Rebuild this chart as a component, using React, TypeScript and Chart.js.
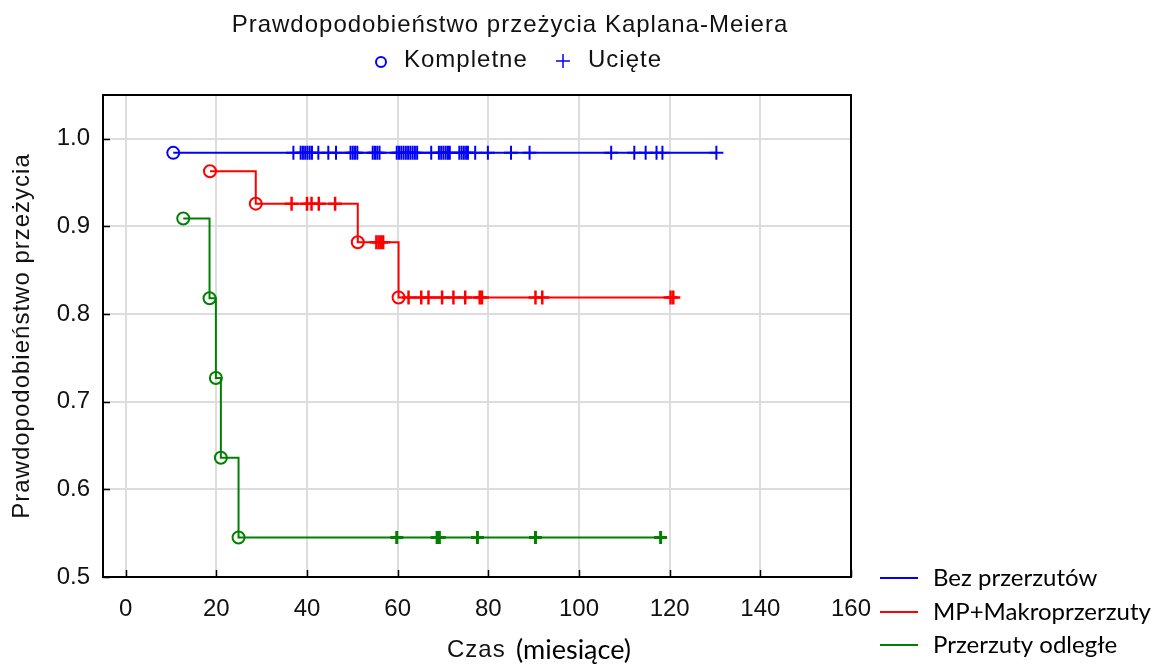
import React, { useEffect, useRef } from 'react';
import { Chart, registerables } from 'chart.js';

Chart.register(...registerables);

// Axis ticks
const xTicks = [0, 20, 40, 60, 80, 100, 120, 140, 160];
const yTicks = [0.5, 0.6, 0.7, 0.8, 0.9, 1.0];

// Bez przerzutów: event (complete) times / survival, censored times, end of follow-up
const blueEventT = [10.5];
const blueEventS = [0.984];
const blueCensorT = [
  37.0, 38.6, 39.1, 39.6, 40.1, 40.6, 41.1, 42.5, 44.7, 46.4, 49.6, 50.1, 50.6, 51.1,
  54.5, 55.0, 55.5, 56.0, 59.8, 60.3, 60.8, 61.3, 61.8, 62.3, 62.8, 63.3, 63.8, 64.3,
  67.4, 69.1, 69.6, 70.1, 70.6, 71.1, 71.5, 73.6, 74.1, 74.6, 75.1, 75.5, 77.1, 79.9,
  85.0, 89.1, 107.1, 112.2, 114.7, 117.1, 118.4, 130.3,
];
const blueEnd = 130.5;

// MP+Makroprzerzuty
const redEventT = [18.6, 28.7, 51.2, 60.2];
const redEventS = [0.963, 0.926, 0.882, 0.819];
const redCensorT = [
  36.6, 40.0, 41.0, 42.6, 46.2, 55.3, 55.8, 56.3, 56.8, 62.4, 65.2, 66.8, 69.8, 72.3,
  74.9, 78.1, 78.6, 90.4, 91.9, 120.2, 120.8,
];
const redEnd = 121;

// Przerzuty odległe
const greenEventT = [12.7, 18.5, 19.9, 21.0, 24.9];
const greenEventS = [0.909, 0.818, 0.727, 0.636, 0.545];
const greenCensorT = [59.8, 68.7, 69.2, 77.6, 90.4, 118.0];
const greenEnd = 118;

const seriesNames = ['Bez przerzutów', 'MP+Makroprzerzuty', 'Przerzuty odległe'];
const seriesColors = ['#0000ff', '#ff0000', '#008000'];

const titleText = 'Prawdopodobieństwo przeżycia Kaplana-Meiera';
const markerLabels = ['Kompletne', 'Ucięte'];
const yTitle = 'Prawdopodobieństwo przeżycia';
const xTitleMain = 'Czas';
const xTitleUnit = '(miesiące)';

const SANS = '"Liberation Sans", Arial, sans-serif';
const LEG = 'Lato, "Open Sans", sans-serif';
const INK = '#111111';

function survivalAt(t: number, evT: number[], evS: number[]) {
  let s = 1;
  for (let i = 0; i < evT.length; i++) if (evT[i] <= t) s = evS[i];
  return s;
}

function curve(evT: number[], evS: number[], end: number) {
  const pts = evT.map((t, i) => ({ x: t, y: evS[i] }));
  pts.push({ x: end, y: evS[evS.length - 1] });
  return pts;
}

function events(evT: number[], evS: number[]) {
  return evT.map((t, i) => ({ x: t, y: evS[i] }));
}

function censored(ct: number[], evT: number[], evS: number[]) {
  return ct.map((t) => ({ x: t, y: survivalAt(t, evT, evS) }));
}

const series = [
  { evT: blueEventT, evS: blueEventS, cT: blueCensorT, end: blueEnd, crossW: 2, crossR: 7 },
  { evT: redEventT, evS: redEventS, cT: redCensorT, end: redEnd, crossW: 2.5, crossR: 7 },
  { evT: greenEventT, evS: greenEventS, cT: greenCensorT, end: greenEnd, crossW: 3, crossR: 6.5 },
];

const decor = {
  id: 'decor',
  beforeDraw(chart: any) {
    const ctx = chart.ctx;
    ctx.save();
    ctx.fillStyle = '#ffffff';
    ctx.fillRect(0, 0, chart.width, chart.height);
    ctx.restore();
  },
  beforeDatasetsDraw(chart: any) {
    const ctx = chart.ctx;
    const { left, right, top, bottom } = chart.chartArea;
    const xs = chart.scales.x;
    const ys = chart.scales.y;
    ctx.save();
    ctx.strokeStyle = '#000000';
    ctx.lineWidth = 2;
    ctx.strokeRect(left, top, right - left, bottom - top);
    ctx.lineWidth = 1.5;
    ctx.beginPath();
    xTicks.forEach((v) => {
      const px = Math.round(xs.getPixelForValue(v)) + 0.5;
      ctx.moveTo(px, bottom);
      ctx.lineTo(px, bottom - 7);
    });
    yTicks.forEach((v) => {
      const py = Math.round(ys.getPixelForValue(v)) + 0.5;
      ctx.moveTo(left, py);
      ctx.lineTo(left + 7, py);
    });
    ctx.stroke();
    ctx.restore();
  },
  afterDraw(chart: any) {
    const ctx = chart.ctx;
    const { right, top, bottom } = chart.chartArea;
    ctx.save();
    ctx.fillStyle = INK;
    ctx.textBaseline = 'middle';

    // title
    ctx.letterSpacing = '1px';
    ctx.font = `24px ${SANS}`;
    ctx.textAlign = 'center';
    ctx.fillText(titleText, 510, 25);

    // marker key
    ctx.textAlign = 'left';
    ctx.fillText(markerLabels[0], 404, 60);
    ctx.fillText(markerLabels[1], 588, 60);
    ctx.strokeStyle = '#0000ff';
    ctx.lineWidth = 2;
    ctx.beginPath();
    ctx.arc(381, 62, 5, 0, Math.PI * 2);
    ctx.stroke();
    ctx.lineWidth = 1.5;
    ctx.beginPath();
    ctx.moveTo(556, 61);
    ctx.lineTo(570, 61);
    ctx.moveTo(563, 54);
    ctx.lineTo(563, 68);
    ctx.stroke();

    // y axis title
    ctx.save();
    ctx.translate(22, (top + bottom) / 2);
    ctx.rotate(-Math.PI / 2);
    ctx.textAlign = 'center';
    ctx.fillText(yTitle, 0, 0);
    ctx.restore();

    // x axis title
    ctx.textAlign = 'left';
    ctx.fillText(xTitleMain, 447, 650);
    ctx.letterSpacing = '0px';
    ctx.font = `27px ${LEG}`;
    ctx.fillStyle = '#000000';
    ctx.fillText(xTitleUnit, 516, 650);

    // series key at the lower right
    ctx.font = `24px ${LEG}`;
    const ly = [578, 612, 645];
    seriesNames.forEach((name, i) => {
      ctx.strokeStyle = seriesColors[i];
      ctx.lineWidth = 2;
      ctx.beginPath();
      ctx.moveTo(right + 29, ly[i]);
      ctx.lineTo(right + 67, ly[i]);
      ctx.stroke();
      ctx.fillText(name, right + 82, ly[i]);
    });
    ctx.restore();
  },
};

export default function App() {
  const ref = useRef<HTMLCanvasElement>(null);

  useEffect(() => {
    document.body.style.margin = '0';
    const datasets: any[] = [];
    series.forEach((s, i) => {
      const color = seriesColors[i];
      datasets.push({
        label: seriesNames[i],
        data: curve(s.evT, s.evS, s.end),
        showLine: true,
        stepped: true,
        borderColor: color,
        borderWidth: 2,
        pointRadius: 0,
        fill: false,
      });
      datasets.push({
        label: seriesNames[i] + ' – kompletne',
        data: events(s.evT, s.evS),
        showLine: false,
        pointStyle: 'circle',
        pointRadius: 6,
        pointBorderWidth: 2,
        pointBorderColor: color,
        pointBackgroundColor: 'rgba(0,0,0,0)',
      });
      datasets.push({
        label: seriesNames[i] + ' – ucięte',
        data: censored(s.cT, s.evT, s.evS),
        showLine: false,
        pointStyle: 'cross',
        pointRadius: s.crossR,
        pointBorderWidth: s.crossW,
        pointBorderColor: color,
        pointBackgroundColor: color,
      });
    });

    const tickFont = { family: SANS, size: 24 };

    const chart = new Chart(ref.current!, {
      type: 'scatter',
      data: { datasets },
      options: {
        animation: false,
        responsive: true,
        maintainAspectRatio: false,
        events: [],
        layout: { padding: { top: 95, right: 309, left: 0, bottom: 0 } },
        plugins: {
          legend: { display: false },
          tooltip: { enabled: false },
          title: { display: false },
        },
        scales: {
          x: {
            type: 'linear',
            min: -5,
            max: 160,
            afterBuildTicks: (s: any) => {
              s.ticks = xTicks.map((v) => ({ value: v }));
            },
            afterFit: (s: any) => {
              s.height = 87;
            },
            grid: { color: '#dddddd', lineWidth: 2, drawTicks: false },
            border: { display: false },
            ticks: {
              font: tickFont,
              color: INK,
              padding: 18,
              maxRotation: 0,
              callback: (v: any) => String(v),
            },
          },
          y: {
            type: 'linear',
            min: 0.5,
            max: 1.05,
            afterBuildTicks: (s: any) => {
              s.ticks = yTicks.map((v) => ({ value: v }));
            },
            afterFit: (s: any) => {
              s.width = 103;
            },
            grid: { color: '#dddddd', lineWidth: 2, drawTicks: false },
            border: { display: false },
            ticks: {
              font: tickFont,
              color: INK,
              padding: 13,
              callback: (v: any) => Number(v).toFixed(1),
            },
          },
        },
      },
      plugins: [decor],
    });
    return () => chart.destroy();
  }, []);

  return (
    <div style={{ width: 1160, height: 664, position: 'relative' }}>
      <canvas ref={ref} />
    </div>
  );
}
